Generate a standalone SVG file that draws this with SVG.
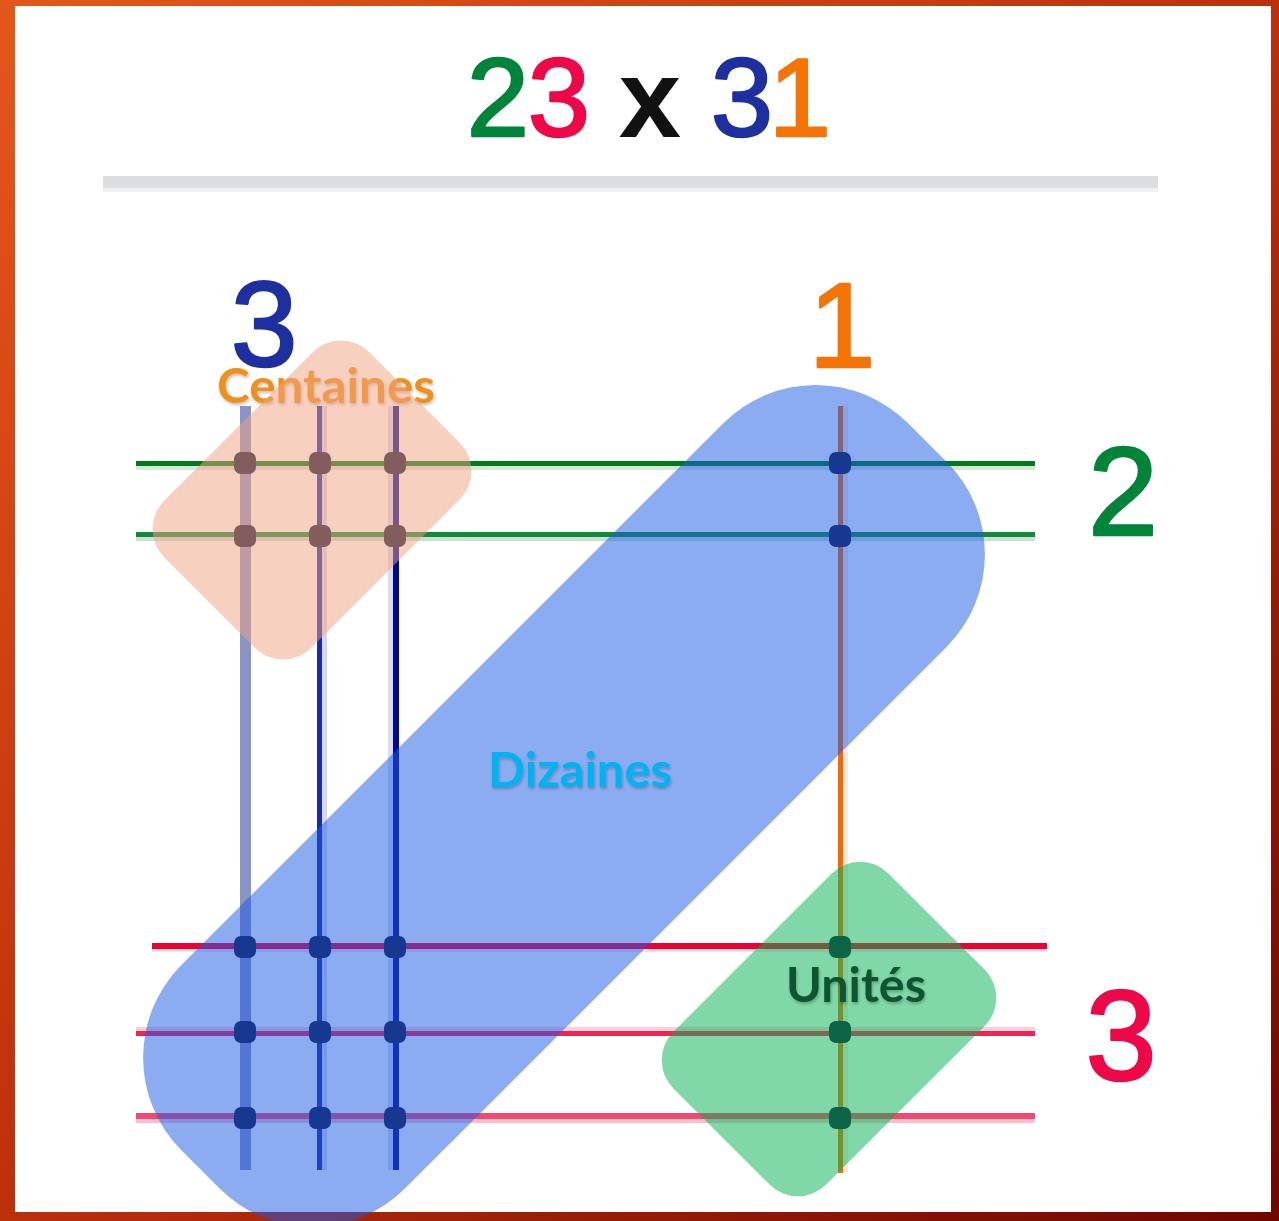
<svg xmlns="http://www.w3.org/2000/svg" width="1279" height="1221" viewBox="0 0 1279 1221">
<defs>
<linearGradient id="frame" x1="0" y1="0" x2="1" y2="1">
<stop offset="0" stop-color="#e2581a"/>
<stop offset="0.5" stop-color="#bc300c"/>
<stop offset="1" stop-color="#6e0600"/>
</linearGradient>
<filter id="shadow" x="-10%" y="-30%" width="120%" height="160%">
<feDropShadow dx="1" dy="2" stdDeviation="1.5" flood-color="#000" flood-opacity="0.25"/>
</filter>
</defs>
<style>
.num{font-family:"Liberation Sans",Arial,sans-serif;font-weight:normal;text-anchor:middle;stroke-width:2.5;stroke-linejoin:round}
.bold{font-weight:bold;stroke-width:0}
.zone-label{font-family:Lato,"Open Sans",sans-serif;font-weight:bold;font-size:48px;filter:url(#shadow)}
.dot{fill:#14163a}
.zone{stroke:none}
</style>
<g id="frame-bg">
<rect x="0" y="0" width="1279" height="1221" fill="url(#frame)"/>
<rect x="15" y="6" width="1256" height="1206" fill="#ffffff"/>
</g>
<g id="title">
<text class="num" x="498" y="136" font-size="112" fill="#00843a" stroke="#00843a">2</text>
<text class="num" x="559" y="136" font-size="112" fill="#ee0848" stroke="#ee0848">3</text>
<text class="num bold" x="650" y="137" font-size="112" fill="#111111">x</text>
<text class="num" x="742" y="136" font-size="112" fill="#1e30a0" stroke="#1e30a0">3</text>
<text class="num" x="800" y="136" font-size="112" fill="#f47408" stroke="#f47408">1</text>
<rect x="103" y="176" width="1055" height="12" fill="#dcdce3"/>
<rect x="103" y="188" width="1055" height="4" fill="#f0f0f3"/>
</g>
<g id="side-labels">
<text class="num" x="264" y="366" font-size="120" fill="#1e30a0" stroke="#1e30a0">3</text>
<text class="num" x="842" y="367" font-size="120" fill="#f47408" stroke="#f47408">1</text>
<text class="num" x="1123" y="535" font-size="126" fill="#00843a" stroke="#00843a">2</text>
<text class="num" x="1121" y="1080" font-size="128" fill="#ee0848" stroke="#ee0848">3</text>
</g>
<g id="connectors">
<rect x="136" y="466" width="899" height="4" fill="#d4e8d8"/>
<rect x="136" y="461" width="899" height="5" fill="#007a1a"/>
<rect x="136" y="537" width="899" height="4" fill="#c8e2d0"/>
<rect x="136" y="532" width="899" height="5" fill="#118a3c"/>
<rect x="152" y="949" width="895" height="3" fill="#fcdde4"/>
<rect x="152" y="943" width="895" height="6" fill="#ee0033"/>
<rect x="136" y="1027" width="899" height="4" fill="#fbd0da"/>
<rect x="136" y="1031" width="899" height="5" fill="#ee2454"/>
<rect x="136" y="1119" width="899" height="4" fill="#f8c0cc"/>
<rect x="136" y="1113" width="899" height="6" fill="#f04a72"/>
<rect x="240" y="406" width="11" height="764" fill="#8a93c6"/>
<rect x="322" y="406" width="5" height="764" fill="#d4d8ee"/>
<rect x="317" y="406" width="5" height="764" fill="#1a2d9e"/>
<rect x="388" y="406" width="5" height="764" fill="#dcdcec"/>
<rect x="393" y="406" width="6" height="764" fill="#00089a"/>
<rect x="843" y="406" width="5" height="767" fill="#fde8dc"/>
<rect x="838" y="406" width="5" height="767" fill="#f46a00"/>
</g>
<g id="intersections">
<rect class="dot" x="234" y="452" width="22" height="22" rx="7"/>
<rect class="dot" x="309" y="452" width="22" height="22" rx="7"/>
<rect class="dot" x="384" y="452" width="22" height="22" rx="7"/>
<rect class="dot" x="829" y="452" width="22" height="22" rx="7"/>
<rect class="dot" x="234" y="525" width="22" height="22" rx="7"/>
<rect class="dot" x="309" y="525" width="22" height="22" rx="7"/>
<rect class="dot" x="384" y="525" width="22" height="22" rx="7"/>
<rect class="dot" x="829" y="525" width="22" height="22" rx="7"/>
<rect class="dot" x="234" y="936" width="22" height="22" rx="7"/>
<rect class="dot" x="309" y="936" width="22" height="22" rx="7"/>
<rect class="dot" x="384" y="936" width="22" height="22" rx="7"/>
<rect class="dot" x="829" y="936" width="22" height="22" rx="7"/>
<rect class="dot" x="234" y="1021" width="22" height="22" rx="7"/>
<rect class="dot" x="309" y="1021" width="22" height="22" rx="7"/>
<rect class="dot" x="384" y="1021" width="22" height="22" rx="7"/>
<rect class="dot" x="829" y="1021" width="22" height="22" rx="7"/>
<rect class="dot" x="234" y="1107" width="22" height="22" rx="7"/>
<rect class="dot" x="309" y="1107" width="22" height="22" rx="7"/>
<rect class="dot" x="384" y="1107" width="22" height="22" rx="7"/>
<rect class="dot" x="829" y="1107" width="22" height="22" rx="7"/>
</g>
<g id="centaines">
<text class="zone-label" x="217" y="403" fill="#f0901a" textLength="218" lengthAdjust="spacingAndGlyphs">Centaines</text>
<rect class="zone" x="-104" y="-145" width="208" height="290" rx="40" fill="#f1a181" fill-opacity="0.5" transform="translate(312,500) rotate(45)"/>
</g>
<g id="dizaines">
<rect class="zone" x="-158" y="-514" width="316" height="1028" rx="131" fill="#195ae5" fill-opacity="0.5" transform="translate(564,806) rotate(45)"/>
<text class="zone-label" x="488" y="787" fill="#00b2f0" textLength="184" lengthAdjust="spacingAndGlyphs">Dizaines</text>
</g>
<g id="unites">
<rect class="zone" x="-108" y="-152" width="216" height="304" rx="40" fill="#01b151" fill-opacity="0.5" transform="translate(829,1029) rotate(45)"/>
<text class="zone-label" x="786" y="1002" fill="#0d5530" textLength="140" lengthAdjust="spacingAndGlyphs">Unités</text>
</g>
</svg>
